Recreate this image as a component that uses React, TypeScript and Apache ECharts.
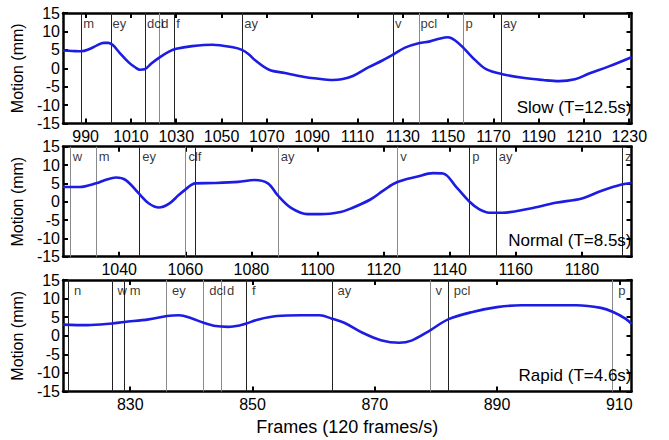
import React, { useEffect, useRef } from "react";
import * as echarts from "echarts";

// ---------- Data ----------
// Slow (T=12.5s)
const slowFrames = [980, 984, 988, 992, 995, 998, 1000, 1002, 1005, 1009, 1012, 1014, 1016, 1019, 1023, 1027, 1030, 1037, 1046, 1055, 1059, 1062, 1065, 1071, 1078, 1086, 1092, 1099, 1103, 1108, 1115, 1121, 1126, 1131, 1137, 1142, 1146, 1150, 1153, 1157, 1162, 1167, 1174, 1183, 1192, 1199, 1206, 1212, 1221, 1231];
const slowMotion = [4.8, 4.7, 4.6, 5.3, 6.2, 6.9, 6.9, 6.3, 4.2, 1.6, 0.2, -0.4, -0.3, 1.3, 3.1, 4.6, 5.3, 6.0, 6.4, 5.7, 5.0, 3.8, 2.1, -0.4, -1.3, -2.3, -2.8, -3.2, -3.0, -2.1, 0.3, 2.1, 3.8, 5.6, 6.8, 7.3, 8.0, 8.4, 7.6, 5.4, 2.2, -0.3, -1.6, -2.6, -3.2, -3.5, -3.0, -1.5, 0.5, 3.0];
const slowEventFrames = [988.2, 1001.1, 1016.3, 1022.6, 1029.2, 1059.2, 1125.8, 1137.1, 1156.9, 1173.5];
const slowEventLabels = ["m", "ey", "dcl", "d", "f", "ay", "v", "pcl", "p", "ay"];
const slowTicks = [990, 1010, 1030, 1050, 1070, 1090, 1110, 1130, 1150, 1170, 1190, 1210, 1230];

// Normal (T=8.5s)
const normalFrames = [1023, 1028, 1033, 1036, 1039, 1042, 1046, 1049, 1052, 1055, 1058, 1060, 1063, 1069, 1076, 1081, 1085, 1088, 1092, 1097, 1101, 1107, 1110, 1116, 1120, 1124, 1130, 1135, 1138, 1142, 1146, 1149, 1152, 1156, 1164, 1172, 1180, 1186, 1192, 1195];
const normalMotion = [4.0, 4.0, 5.0, 6.0, 6.6, 5.9, 2.2, -0.5, -1.6, -0.6, 1.8, 3.3, 5.0, 5.1, 5.4, 5.9, 5.0, 1.7, -1.7, -3.4, -3.4, -2.8, -1.9, 0.6, 3.1, 5.3, 6.8, 7.8, 7.7, 4.0, 0.0, -2.1, -3.0, -3.0, -1.9, -0.3, 0.9, 3.0, 4.7, 5.1];
const normalEventFrames = [1025.1, 1033.0, 1046.1, 1060.1, 1062.9, 1088.0, 1124.2, 1146.0, 1154.0, 1192.2];
const normalEventLabels = ["w", "m", "ey", "cl", "f", "ay", "v", "p", "ay", "z"];
const normalTicks = [1040, 1060, 1080, 1100, 1120, 1140, 1160, 1180];

// Rapid (T=4.6s)
const rapidFrames = [819, 823, 827, 829, 833, 836, 838, 840, 842, 844, 846, 848, 849, 851, 854, 858, 861, 863, 865, 868, 871, 874, 876, 879, 882, 886, 890, 894, 898, 903, 907, 909, 911, 912];
const rapidMotion = [3.0, 2.85, 3.3, 3.7, 4.4, 5.3, 5.5, 4.7, 3.5, 2.6, 2.4, 2.8, 3.3, 4.4, 5.3, 5.5, 5.5, 4.6, 3.5, 0.8, -1.2, -1.9, -1.3, 1.4, 4.4, 6.4, 7.7, 8.2, 8.2, 8.2, 7.5, 6.4, 4.6, 3.2];
const rapidEventFrames = [819.9, 827.0, 829.0, 835.9, 842.0, 844.9, 849.0, 863.0, 879.0, 882.0, 908.9];
const rapidEventLabels = ["n", "w", "m", "ey", "dcl", "d", "f", "ay", "v", "pcl", "p"];
const rapidTicks = [830, 850, 870, 890, 910];

const yTicksMin = -15;
const yTicksMax = 15;
const yInterval = 5;

const panelTitles = ["Slow (T=12.5s)", "Normal (T=8.5s)", "Rapid (T=4.6s)"];

// ---------- Styles (kept apart from data) ----------
const DARK = "#222";
const LIGHT = "#8a8a8a";
const slowShades = [DARK, DARK, DARK, LIGHT, DARK, DARK, DARK, LIGHT, LIGHT, DARK];
const normalShades = [LIGHT, LIGHT, DARK, LIGHT, DARK, LIGHT, LIGHT, DARK, DARK, DARK];
const rapidShades = [DARK, DARK, DARK, LIGHT, LIGHT, LIGHT, DARK, DARK, LIGHT, DARK, LIGHT];

const FONT = "'Liberation Sans', Arial, sans-serif";
const CURVE = "#1c1ce2";

const panels = [
  { frames: slowFrames, motion: slowMotion, events: slowEventFrames, labels: slowEventLabels, ticks: slowTicks, shades: slowShades, min: 980, max: 1231, top: 13, height: 110.5 },
  { frames: normalFrames, motion: normalMotion, events: normalEventFrames, labels: normalEventLabels, ticks: normalTicks, shades: normalShades, min: 1023, max: 1195, top: 146.7, height: 110 },
  { frames: rapidFrames, motion: rapidMotion, events: rapidEventFrames, labels: rapidEventLabels, ticks: rapidTicks, shades: rapidShades, min: 819, max: 912, top: 280, height: 111.5 },
];

const plain = (v: number) => String(v);

function buildOption() {
  const grid: any[] = [];
  const xAxis: any[] = [];
  const yAxis: any[] = [];
  const series: any[] = [];
  const title: any[] = [];

  const axisLine = { show: true, onZero: false, lineStyle: { color: "#000", width: 2.5 } };
  const tickStyle = { color: "#000", width: 2 };

  panels.forEach((p, i) => {
    grid.push({ left: 63, right: 37.5, top: p.top, height: p.height, containLabel: false });

    const isLast = i === panels.length - 1;
    xAxis.push({
      type: "value",
      gridIndex: i,
      position: "bottom",
      min: p.min,
      max: p.max,
      axisLine,
      axisTick: { show: true, inside: true, length: 5, customValues: p.ticks, lineStyle: tickStyle },
      axisLabel: { show: true, customValues: p.ticks, formatter: plain, color: "#000", fontSize: 16, fontFamily: FONT, margin: 5 },
      splitLine: { show: false },
      name: isLast ? "Frames (120 frames/s)" : "",
      nameLocation: "middle",
      nameGap: 26,
      nameTextStyle: { color: "#000", fontSize: 18, fontFamily: FONT },
    });
    xAxis.push({
      type: "value",
      gridIndex: i,
      position: "top",
      min: p.min,
      max: p.max,
      axisLine,
      axisTick: { show: true, inside: true, length: 5, customValues: p.ticks, lineStyle: tickStyle },
      axisLabel: { show: false },
      splitLine: { show: false },
    });
    yAxis.push({
      type: "value",
      gridIndex: i,
      position: "left",
      min: yTicksMin,
      max: yTicksMax,
      interval: yInterval,
      axisLine,
      axisTick: { show: true, inside: true, length: 5, lineStyle: tickStyle },
      axisLabel: { show: true, formatter: plain, color: "#000", fontSize: 16, fontFamily: FONT, margin: 3 },
      splitLine: { show: false },
      name: "Motion (mm)",
      nameLocation: "middle",
      nameGap: 38,
      nameTextStyle: { color: "#000", fontSize: 16, fontFamily: FONT },
    });
    yAxis.push({
      type: "value",
      gridIndex: i,
      position: "right",
      min: yTicksMin,
      max: yTicksMax,
      interval: yInterval,
      axisLine,
      axisTick: { show: true, inside: true, length: 5, lineStyle: tickStyle },
      axisLabel: { show: false },
      splitLine: { show: false },
    });

    series.push({
      type: "line",
      xAxisIndex: 2 * i,
      yAxisIndex: 2 * i,
      data: p.frames.map((f, k) => [f, p.motion[k]]),
      smooth: 0.35,
      showSymbol: false,
      symbol: "none",
      silent: true,
      lineStyle: { color: CURVE, width: 2.6 },
      z: 3,
      markLine: {
        silent: true,
        symbol: ["none", "none"],
        label: { show: false },
        lineStyle: { type: "solid", width: 1 },
        data: p.events.map((e, k) => ({ xAxis: e, lineStyle: { color: p.shades[k], width: 1, type: "solid" } })),
        z: 2,
      },
    });

    series.push({
      type: "scatter",
      xAxisIndex: 2 * i,
      yAxisIndex: 2 * i,
      silent: true,
      symbol: "rect",
      symbolSize: 1,
      itemStyle: { color: "rgba(0,0,0,0)" },
      data: p.events.map((e, k) => ({ value: [e + 1, yTicksMax], name: p.labels[k] })),
      label: {
        show: true,
        formatter: "{b}",
        position: [0, 4],
        color: "#000",
        fontSize: 13,
        fontFamily: FONT,
      },
      z: 4,
    });

    title.push({
      text: panelTitles[i],
      right: 37.5,
      top: p.top + p.height - 25,
      padding: 0,
      textStyle: { color: "#000", fontSize: 17, fontWeight: "normal", fontFamily: FONT },
    });
  });

  return { animation: false, backgroundColor: "#fff", title, grid, xAxis, yAxis, series };
}

export default function App() {
  const ref = useRef<HTMLDivElement>(null);
  useEffect(() => {
    if (!ref.current) return;
    const chart = echarts.init(ref.current, undefined, { renderer: "svg" });
    chart.setOption(buildOption() as any);
    return () => chart.dispose();
  }, []);
  return (
    <div
      ref={ref}
      style={{ position: "fixed", left: 0, top: 0, width: 669, height: 440, background: "#fff" }}
    />
  );
}
